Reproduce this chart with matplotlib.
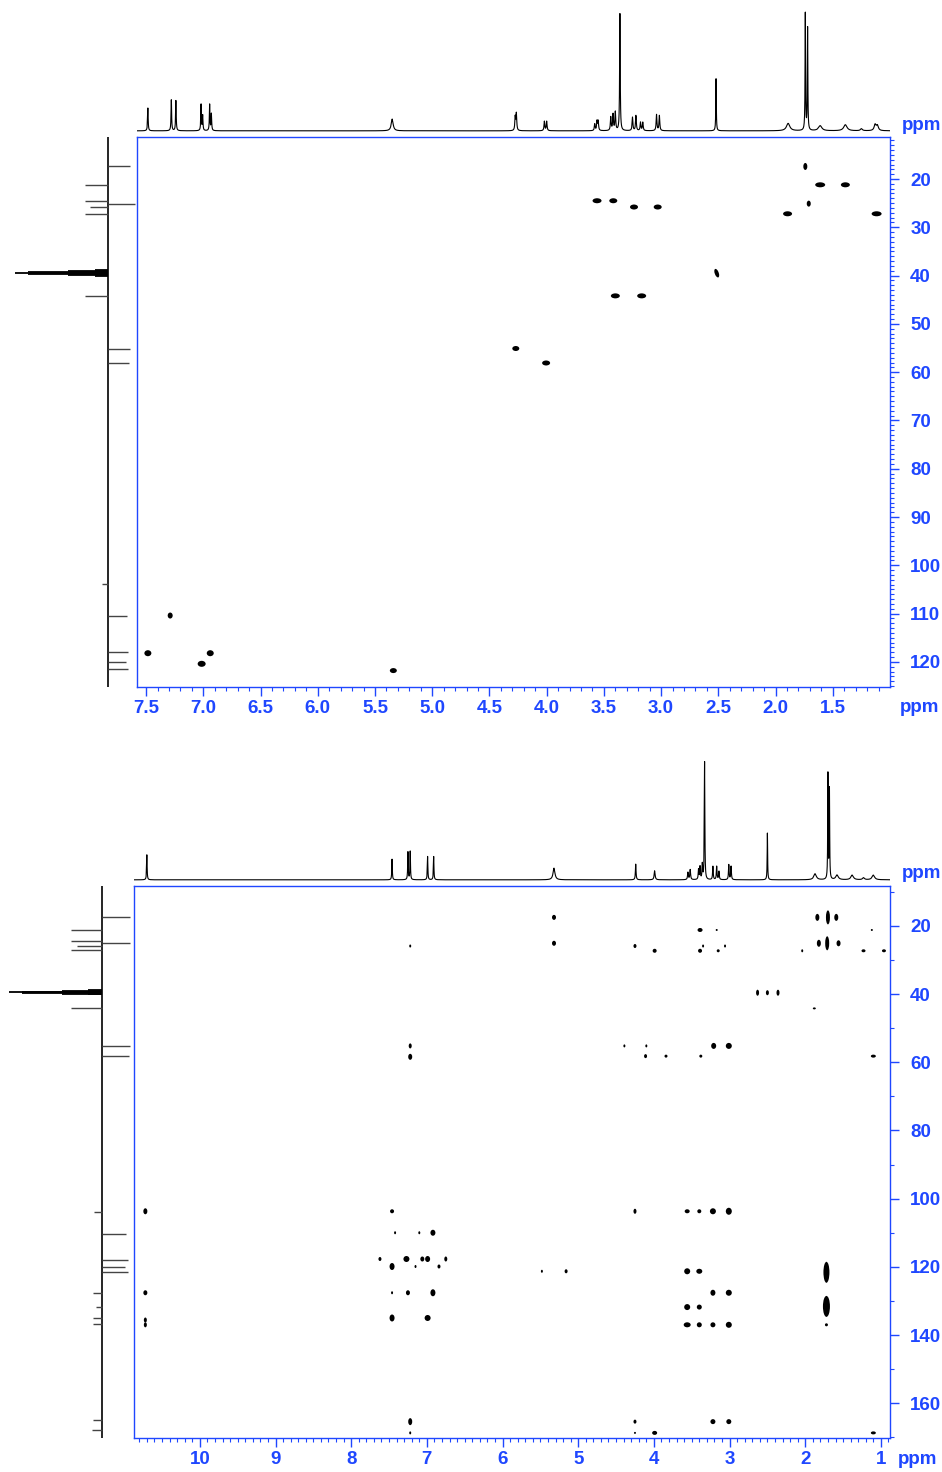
import numpy as np
import matplotlib.pyplot as plt
from matplotlib.collections import EllipseCollection

plt.rcParams['font.family'] = ['Liberation Sans Narrow', 'Liberation Sans', 'DejaVu Sans']
plt.rcParams['font.weight'] = 'bold'

BLUE = '#1f47ff'

# ---------------- 1H trace above the HSQC (ppm, rel. height, linewidth ppm)
h1a_ppm = [7.485, 7.28, 7.24, 7.02, 7.006, 6.945, 6.93, 5.35, 4.275, 4.265,
           4.02, 4.00, 3.58, 3.56, 3.55, 3.44, 3.42, 3.40, 3.36, 3.25, 3.22,
           3.18, 3.16, 3.04, 3.015, 2.52, 1.89, 1.74, 1.72, 1.61, 1.39, 1.25,
           1.13, 1.11]
h1a_int = [68, 92, 90, 78, 45, 78, 50, 35, 40, 50,
           28, 28, 20, 28, 28, 40, 48, 55, 348, 40, 45,
           25, 25, 48, 45, 155, 22, 348, 305, 15, 18, 6,
           18, 15]
h1a_lw = [0.006, 0.006, 0.006, 0.006, 0.006, 0.006, 0.006, 0.02, 0.008, 0.008,
          0.008, 0.008, 0.008, 0.008, 0.008, 0.008, 0.008, 0.008, 0.006, 0.008, 0.008,
          0.008, 0.008, 0.008, 0.008, 0.005, 0.035, 0.005, 0.005, 0.035, 0.035, 0.02,
          0.02, 0.02]

# ---------------- 1H trace above the HMBC
h1b_ppm = [10.70, 7.46, 7.25, 7.22, 6.99, 6.91, 5.32, 4.24, 3.99, 3.55, 3.52,
           3.41, 3.39, 3.36, 3.33, 3.22, 3.17, 3.14, 3.01, 2.98, 2.50, 1.87,
           1.70, 1.68, 1.58, 1.38, 1.23, 1.10]
h1b_int = [75, 62, 83, 85, 70, 70, 35, 47, 27, 22, 30,
           30, 38, 45, 353, 40, 40, 25, 45, 40, 140, 18,
           316, 270, 14, 14, 6, 14]
h1b_lw = [0.008, 0.008, 0.008, 0.008, 0.008, 0.008, 0.03, 0.01, 0.015, 0.012, 0.012,
          0.01, 0.01, 0.01, 0.008, 0.01, 0.01, 0.01, 0.01, 0.01, 0.007, 0.04,
          0.007, 0.007, 0.04, 0.04, 0.03, 0.04]

# ---------------- 13C (APT) projection: up = CH/CH3, down = C/CH2
c_up = [17.4, 25.1, 55.1, 58.1, 110.4, 118.0, 120.0, 121.4]
c_up_int_a = [22, 27, 22, 21, 19, 20, 18, 20]
c_up_int_b = [29, 29, 29, 28, 25, 27, 24, 27]
c_dn = [21.2, 24.5, 25.8, 27.2, 44.2, 103.8, 127.7, 131.8, 134.9, 136.8, 165.0, 168.0]
c_dn_int_a = [23, 23, 18, 23, 23, 6, 0, 0, 0, 0, 0, 0]
c_dn_int_b = [31, 31, 25, 31, 31, 8, 9, 6, 9, 9, 9, 10]
dmso_c = [38.9, 39.1, 39.3, 39.5, 39.7, 39.9, 40.1]
dmso_rel = [1, 3, 6, 7, 6, 3, 1]

# ---------------- HSQC cross peaks (1H ppm, 13C ppm) and spot size (px)
hsqc_h = [1.74, 1.61, 1.39, 1.71, 1.895, 1.117, 3.56, 3.418, 3.237, 3.03,
          2.514, 3.40, 3.17, 4.27, 4.005, 7.29, 7.485, 7.015, 6.94, 5.34]
hsqc_c = [17.4, 21.2, 21.2, 25.1, 27.2, 27.2, 24.5, 24.5, 25.8, 25.8,
          39.5, 44.2, 44.2, 55.1, 58.1, 110.4, 118.2, 120.4, 118.2, 121.8]
hsqc_sw = [4, 10, 9, 4, 9, 10, 9, 8, 8, 8, 4, 9, 9, 7, 8, 5, 7, 8, 7, 7]
hsqc_sh = [7, 5, 5, 6, 5, 5, 5, 5, 5, 5, 9, 5, 5, 5, 5, 6, 6, 6, 6, 5]
hsqc_ang = [0] * 10 + [20] + [0] * 9

# ---------------- HMBC cross peaks
hmbc_h = [5.32, 5.32, 7.22, 4.25, 3.99, 3.39, 3.17, 3.39, 3.35, 3.15, 3.06, 2.04,
          1.84, 1.70, 1.59, 1.82, 1.71, 1.56, 1.12, 1.23, 0.96,
          2.63, 2.50, 2.36, 1.88,
          7.22, 7.22, 4.39, 4.10, 4.11, 3.84, 3.38, 3.21, 3.01, 1.10,
          10.72, 7.46, 4.25, 3.56, 3.40, 3.22, 3.01,
          7.42, 7.10, 6.92,
          7.62, 7.27, 7.06, 6.99, 6.75, 7.46, 7.15, 6.84,
          5.48, 5.16, 3.56, 3.40, 1.72,
          10.72, 7.46, 7.25, 6.92, 3.22, 3.01,
          3.56, 3.40, 1.72,
          10.72, 10.72, 7.46, 6.99, 3.56, 3.40, 3.22, 3.01, 1.72,
          7.22, 7.22, 4.25, 4.25, 3.99, 3.22, 3.01, 1.10]
hmbc_c = [17.5, 25.1, 25.9, 25.9, 27.3, 21.2, 21.2, 27.3, 25.9, 27.3, 25.9, 27.3,
          17.5, 17.5, 17.5, 25.1, 25.1, 25.1, 21.2, 27.3, 27.3,
          39.6, 39.6, 39.6, 44.2,
          55.2, 58.4, 55.2, 55.2, 58.2, 58.2, 58.2, 55.2, 55.2, 58.2,
          103.7, 103.7, 103.7, 103.7, 103.7, 103.7, 103.7,
          110.0, 110.0, 110.0,
          117.7, 117.7, 117.7, 117.7, 117.7, 119.9, 119.9, 119.9,
          121.3, 121.3, 121.3, 121.3, 121.6,
          127.6, 127.6, 127.6, 127.6, 127.6, 127.6,
          131.8, 131.8, 131.6,
          135.6, 137.0, 135.0, 135.0, 137.0, 137.0, 137.0, 137.0, 137.0,
          165.4, 168.7, 165.4, 168.7, 168.7, 165.4, 165.4, 168.7]
hmbc_sw = [4, 4, 2, 3, 4, 5, 2, 4, 2, 3, 2, 2,
           4, 4, 4, 4, 4, 4, 2, 4, 4,
           3, 3, 3, 3,
           3, 4, 2, 2, 3, 3, 3, 5, 6, 5,
           4, 4, 3, 5, 4, 6, 6,
           2, 2, 5,
           3, 6, 4, 5, 3, 5, 2, 3,
           2, 3, 6, 6, 6,
           4, 2, 4, 5, 5, 6,
           6, 5, 7,
           3, 3, 5, 6, 7, 5, 5, 6, 3,
           4, 2, 3, 2, 5, 5, 5, 5]
hmbc_sh = [5, 5, 3, 4, 4, 4, 2, 4, 3, 3, 3, 3,
           7, 14, 7, 7, 14, 6, 2, 3, 3,
           6, 5, 6, 2,
           5, 6, 3, 3, 4, 3, 3, 6, 6, 3,
           6, 4, 5, 4, 4, 6, 7,
           3, 3, 6,
           4, 6, 5, 6, 5, 7, 3, 4,
           3, 4, 6, 5, 21,
           5, 3, 5, 7, 6, 6,
           6, 5, 21,
           5, 5, 7, 6, 5, 5, 5, 6, 3,
           7, 3, 4, 2, 4, 5, 5, 3]

W, H = 942, 1472
fig = plt.figure(figsize=(W / 100, H / 100), dpi=100)


def box(x0, y0, x1, y1):
    return [x0 / W, 1 - y1 / H, (x1 - x0) / W, (y1 - y0) / H]


def proton_trace(ax, xlim, ppm, inten, lw, top):
    x = np.linspace(xlim[1], xlim[0], 20000)
    y = np.zeros_like(x)
    for p, a, w in zip(ppm, inten, lw):
        g = (w / 2) ** 2
        y += a * g / ((x - p) ** 2 + g)
    ax.plot(x, y / top, color='black', lw=0.8)
    ax.set_xlim(*xlim)
    ax.set_ylim(-0.01, 1.05)
    ax.axis('off')


def carbon_trace(ax, ylim, base, scale, up_int, dn_int, dmso_len):
    ax.plot([0, 0], ylim, color='black', lw=1.2)
    ax.hlines(c_up, 0, np.array(up_int) * scale, color='#444444', lw=1)
    ax.hlines(c_dn, 0, -np.array(dn_int) * scale, color='#444444', lw=1)
    ax.hlines(dmso_c, 0, -np.array(dmso_rel) / 7 * dmso_len, color='black', lw=1.3)
    ax.set_ylim(*ylim)
    ax.set_xlim(-base, 137 - base)
    ax.axis('off')


def style_main(ax, xmaj, xmin_, ymaj, ymin_, xfmt):
    for s in ax.spines.values():
        s.set_color(BLUE)
        s.set_linewidth(1)
    ax.xaxis.set_ticks_position('bottom')
    ax.yaxis.set_ticks_position('right')
    ax.set_xticks(xmaj)
    ax.set_xticks(xmin_, minor=True)
    ax.set_xticklabels([xfmt.format(v) for v in xmaj])
    ax.set_yticks(ymaj)
    ax.set_yticks(ymin_, minor=True)
    ax.set_yticklabels(['%d' % v for v in ymaj])
    ax.tick_params(which='major', direction='out', length=6.5, width=1,
                   color=BLUE, labelcolor=BLUE, labelsize=13.5)
    ax.tick_params(which='minor', direction='out', length=3, width=0.8, color=BLUE)
    ax.tick_params(axis='x', which='major', pad=3)
    ax.tick_params(axis='y', which='major', pad=8)


# ================= top panel: HSQC =================
xl_a = (7.58, 1.0)
yl_a = (125.2, 11.3)
ax1 = fig.add_axes(box(137, 137, 890, 687))
ax1.set_xlim(*xl_a)
ax1.set_ylim(*yl_a)
ec = EllipseCollection(hsqc_sw, hsqc_sh, hsqc_ang, units='dots',
                       offsets=np.column_stack([hsqc_h, hsqc_c]),
                       offset_transform=ax1.transData, facecolors='black',
                       edgecolors='none')
ax1.add_collection(ec)
style_main(ax1, np.arange(7.5, 1.4, -0.5), np.arange(7.5, 1.0, -0.1),
           np.arange(20, 121, 10), np.arange(12, 126, 1), '{:.1f}')

ax1h = fig.add_axes(box(137, 8, 890, 132))
proton_trace(ax1h, xl_a, h1a_ppm, h1a_int, h1a_lw, 348)

ax1c = fig.add_axes(box(0, 137, 137, 687))
carbon_trace(ax1c, yl_a, 108, 1.0, c_up_int_a, c_dn_int_a, 93)

fig.text(902 / W, 1 - 126 / H, 'ppm', color=BLUE, fontsize=13.5, va='center')
fig.text(900 / W, 1 - 708 / H, 'ppm', color=BLUE, fontsize=13.5, va='center')

# ================= bottom panel: HMBC =================
xl_b = (10.87, 0.88)
yl_b = (170.2, 8.3)
ax2 = fig.add_axes(box(134, 886, 890, 1438))
ax2.set_xlim(*xl_b)
ax2.set_ylim(*yl_b)
ec2 = EllipseCollection(hmbc_sw, hmbc_sh, 0, units='dots',
                        offsets=np.column_stack([hmbc_h, hmbc_c]),
                        offset_transform=ax2.transData, facecolors='black',
                        edgecolors='none')
ax2.add_collection(ec2)
style_main(ax2, np.arange(10, 0.9, -1), np.arange(10.8, 0.88, -0.1),
           np.arange(20, 161, 20), np.arange(10, 171, 10), '{:.0f}')

ax2h = fig.add_axes(box(134, 756, 890, 881))
proton_trace(ax2h, xl_b, h1b_ppm, h1b_int, h1b_lw, 353)

ax2c = fig.add_axes(box(0, 886, 134, 1438))
carbon_trace(ax2c, yl_b, 104, 1.0, c_up_int_b, c_dn_int_b, 95)

fig.text(902 / W, 1 - 874 / H, 'ppm', color=BLUE, fontsize=13.5, va='center')
fig.text(898 / W, 1 - 1460 / H, 'ppm', color=BLUE, fontsize=13.5, va='center')

fig.savefig('out.png', dpi=100)
